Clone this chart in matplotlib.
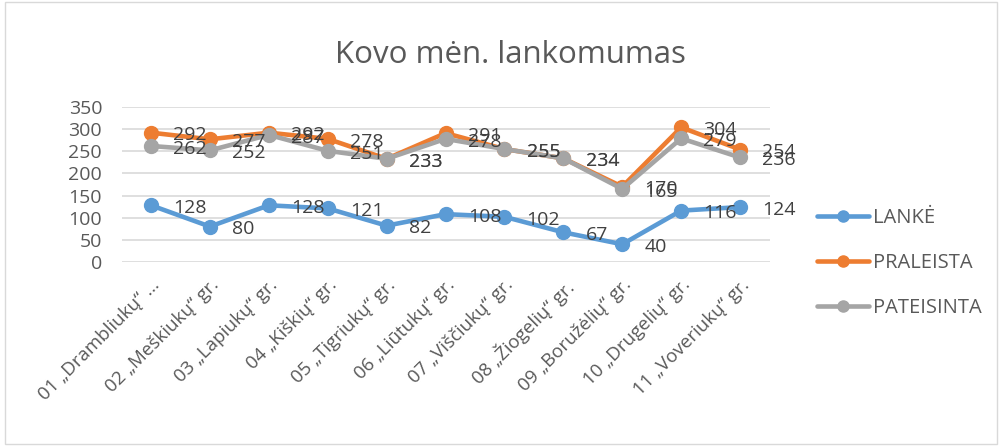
import matplotlib.pyplot as plt
from matplotlib.patches import Rectangle

plt.rcParams['font.family'] = ['Open Sans', 'DejaVu Sans']

categories = [
    '01 „Drambliukų“ ...',
    '02 „Meškiukų“ gr.',
    '03 „Lapiukų“ gr.',
    '04 „Kiškių“ gr.',
    '05 „Tigriukų“ gr.',
    '06 „Liūtukų“ gr.',
    '07 „Viščiukų“ gr.',
    '08 „Žiogelių“ gr.',
    '09 „Boružėlių“ gr.',
    '10 „Drugelių“ gr.',
    '11 „Voveriukų“ gr.',
]
lanke = [128, 80, 128, 121, 82, 108, 102, 67, 40, 116, 124]
praleista = [292, 277, 292, 278, 233, 291, 255, 234, 170, 304, 254]
pateisinta = [262, 252, 287, 251, 233, 278, 255, 234, 165, 279, 236]

series = [
    ("LANKĖ", lanke, "#5B9BD5"),
    ("PRALEISTA", praleista, "#ED7D31"),
    ("PATEISINTA", pateisinta, "#A5A5A5"),
]

text_color = "#595959"

fig = plt.figure(figsize=(10.02, 4.46), dpi=100)
ax = fig.add_axes([0.1213, 0.4126, 0.6467, 0.3475])

x = list(range(len(categories)))
for name, values, color in series:
    ax.plot(x, values, color=color, linewidth=3.3, marker="o", markersize=10,
            label=name, solid_capstyle="round")
for name, values, color in series:
    for xi, v in zip(x, values):
        ax.annotate(str(v), (xi, v), xytext=(16, -2), textcoords="offset points",
                    ha="left", va="center", fontsize=14, color="#404040")

ax.set_xlim(-0.5, len(categories) - 0.5)
ax.set_ylim(0, 350)
ax.set_yticks(range(0, 351, 50))
ax.set_xticks(x)
ax.set_xticklabels(categories, rotation=45, ha="right", rotation_mode="anchor")
ax.tick_params(axis="both", length=0, colors=text_color)
ax.tick_params(axis="y", labelsize=14, pad=14)
ax.tick_params(axis="x", labelsize=13.5, pad=10)
ax.grid(axis="y", color="#D9D9D9", linewidth=1.2)
ax.set_axisbelow(True)
for s in ax.spines.values():
    s.set_visible(False)

fig.text(0.509, 0.877, "Kovo mėn. lankomumas", ha="center", va="center",
         fontsize=22.5, color=text_color)

ax.legend(loc="center left", bbox_to_anchor=(0.797, 0.41),
          bbox_transform=fig.transFigure, frameon=False, fontsize=14.5,
          labelcolor=text_color, handlelength=2.6, handletextpad=0.2,
          labelspacing=1.25, markerscale=0.8)

fig.patches.append(Rectangle((0.005, 0.005), 0.99, 0.99, transform=fig.transFigure,
                             fill=False, edgecolor="#D9D9D9", linewidth=1))

fig.savefig("out.png", dpi=100)
